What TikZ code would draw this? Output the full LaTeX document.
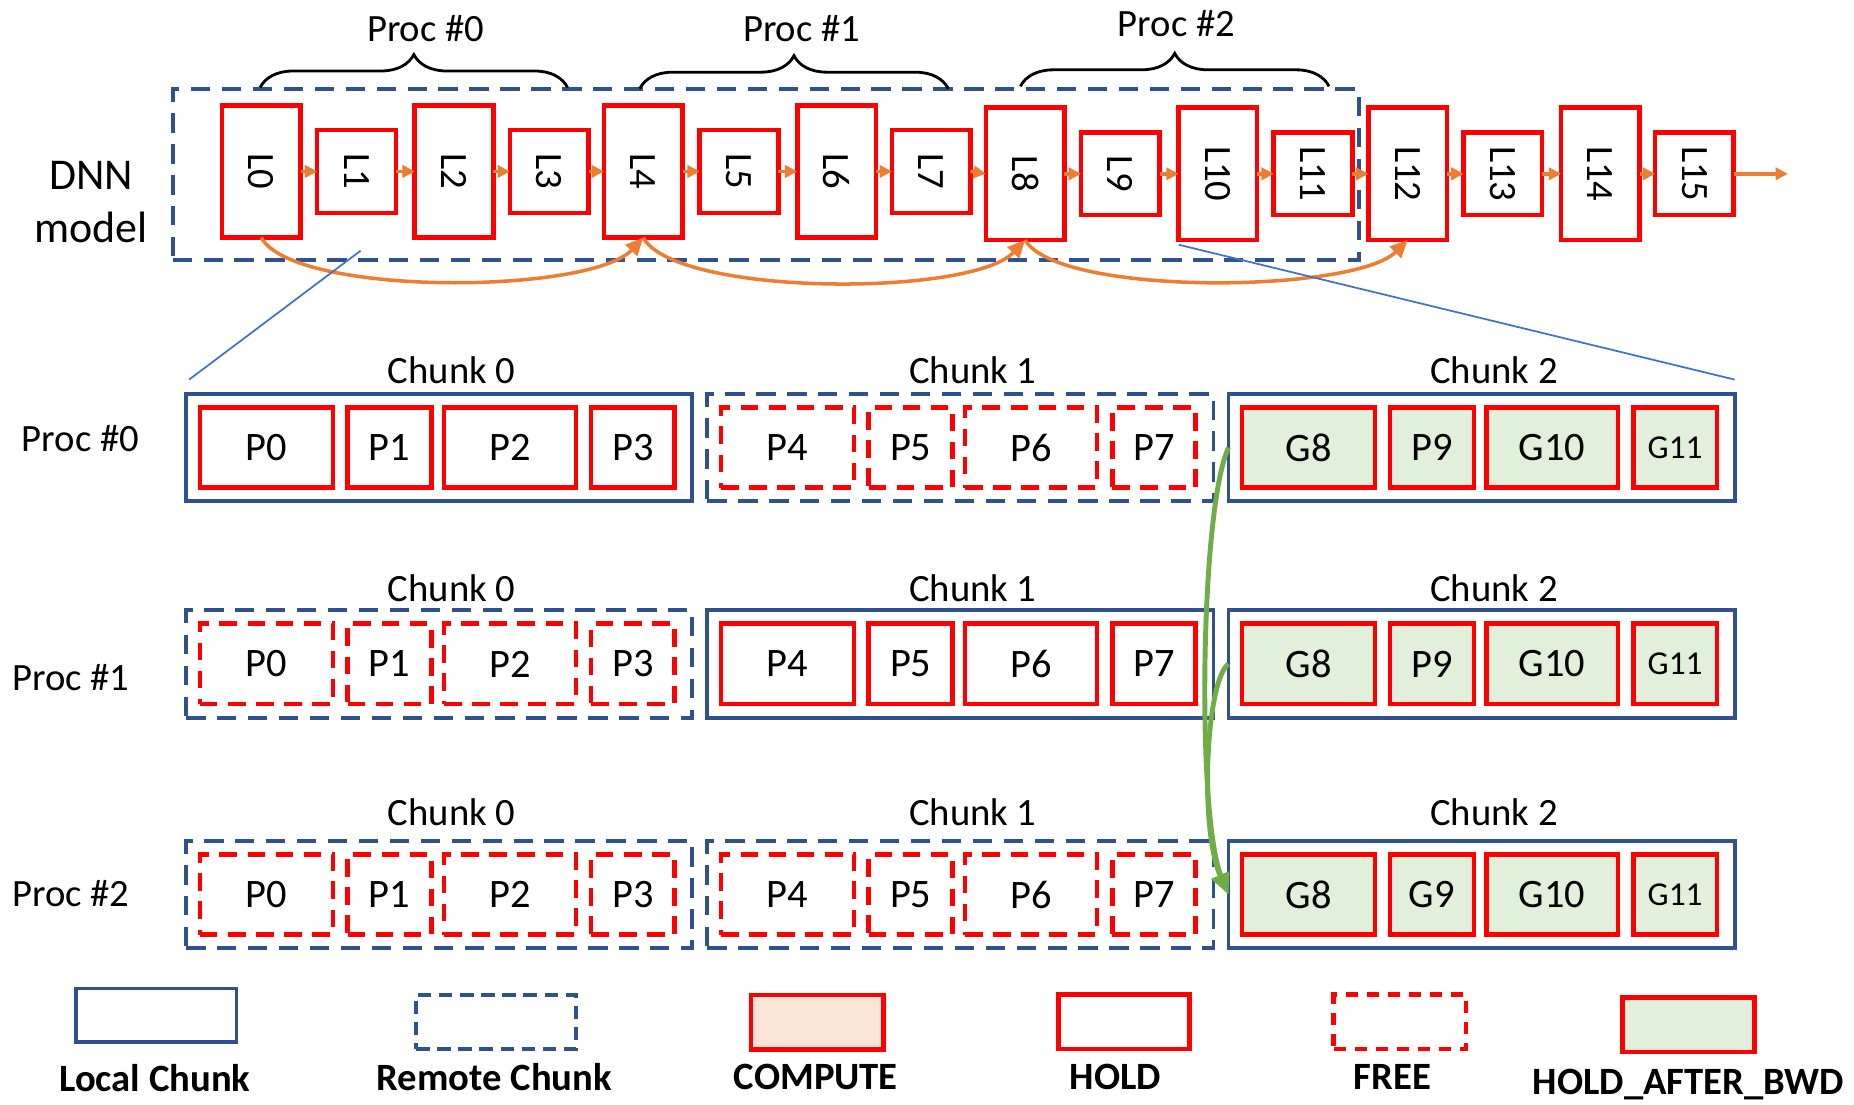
\documentclass[tikz,border=0pt]{standalone}
\usepackage{fontspec}
\setmainfont{Carlito}
\usetikzlibrary{arrows.meta,decorations.pathreplacing}
\newcommand\myu{0.011824cm}
\definecolor{cblue}{HTML}{2F528F}
\definecolor{oran}{HTML}{ED7D31}
\definecolor{gline}{HTML}{70AD47}
\definecolor{gfill}{HTML}{E2EFDA}
\definecolor{pfill}{HTML}{FBE5D6}
\definecolor{zblue}{HTML}{4472C4}
\definecolor{mred}{HTML}{FF0000}
\tikzset{
 sz/.style 2 args={minimum width=#1*\myu, minimum height=#2*\myu},
 base box/.style={rectangle, inner sep=0pt, outer sep=0pt},
 lay/.style={base box, draw=mred, line width=1.3pt},
 ltxt/.style={rotate=-90, font=\fontsize{11}{13}\selectfont, inner sep=0pt},
 Lchunk/.style={base box, draw=cblue, line width=1.1pt},
 Rchunk/.style={Lchunk, dash pattern=on 5.5pt off 3.3pt},
 holdbox/.style={base box, draw=mred, line width=1.3pt, font=\fontsize{11.5}{13}\selectfont},
 freebox/.style={holdbox, dash pattern=on 5pt off 3pt},
 habbox/.style={holdbox, fill=gfill},
 cmpbox/.style={holdbox, fill=pfill},
 clbl/.style={font=\fontsize{11}{13}\selectfont, anchor=base, inner sep=0pt},
 plbl/.style={font=\fontsize{11}{13}\selectfont, inner sep=0pt},
 leg/.style={font=\bfseries\fontsize{11}{13}\selectfont, inner sep=0pt},
 oarr/.style={draw=oran, line width=1pt, -{Triangle[length=3.5pt,width=3.5pt]}},
 oarc/.style={draw=oran, line width=1pt, -{Triangle[length=5pt,width=4.5pt]}},
 garr/.style={draw=gline, line width=1.4pt, -{Triangle[length=6pt,width=5pt]}},
 zline/.style={draw=zblue, line width=0.5pt},
 bracedeco/.style={draw=black, line width=0.8pt, decorate, decoration={brace, amplitude=9.4pt}},
}
\newcommand\mkchunk[6]{%
  \pgfmathsetmacro\cx{371.5+440.75*#4}
  \node[#5, sz={428}{91}] (c#1#4) at (\cx,#2) {};
  \node[clbl] (cl#1#4) at (\cx+10.5,#3) {Chunk #4};
  \foreach \i/\dx/\w in {0/-146.25/112.5,1/-42/71,2/59.75/111.5,3/163.75/70.5}{
    \pgfmathtruncatemacro\n{4*#4+\i}
    \node[#6, sz={\w}{68}] (p#1#4\i) at (\cx+\dx,#2) {P\n};
  }
}
\newcommand\mkgrad[4]{%
  \pgfmathsetmacro\cx{371.5+440.75*2}
  \node[Lchunk, sz={428}{91}] (c#12) at (\cx,#2) {};
  \node[clbl] (cl#12) at (\cx+10.5,#3) {Chunk 2};
  \node[habbox, sz={112.5}{68}] (p#120) at (\cx-146.25,#2) {G8};
  \node[habbox, sz={71}{68}] (p#121) at (\cx-42,#2) {#4};
  \node[habbox, sz={111.5}{68}] (p#122) at (\cx+59.75,#2) {G10};
  \node[habbox, sz={70.5}{68}, font=\fontsize{9.5}{11}\selectfont] (p#123) at (\cx+163.75,#2) {G11};
}
\begin{document}
\begin{tikzpicture}[x=\myu, y=-\myu]
\useasboundingbox (0,0) rectangle (1568,934);

% DNN model label
\node[font=\fontsize{12.5}{15}\selectfont, anchor=base, inner sep=0pt] (dnn1) at (77,160) {DNN};
\node[font=\fontsize{12.5}{15}\selectfont, anchor=base, inner sep=0pt] (dnn2) at (77,205) {model};

% model dashed box
\node[Rchunk, sz={1003}{144.5}] (model) at (647.5,147.75) {};

% layers
\foreach \i/\x in {0/221,1/301.5,2/384,3/464.5,4/544,5/625,6/707.5,7/787.5,8/867,9/947.5,10/1030,11/1110.5,12/1190.5,13/1271,14/1353.5,15/1433}{
  \pgfmathsetmacro\yy{\i<8 ? 145 : 147}
  \pgfmathsetmacro\hh{mod(\i,2)==0 ? 112 : 70}
  \node[lay, sz={66.5}{\hh}] (L\i) at (\x,\yy) {};
  \node[ltxt] (Lt\i) at (L\i) {L\i};
}
\foreach \a [evaluate=\a as \b using int(\a+1)] in {0,...,14}
  \draw[oarr] (L\a.east) -- (L\b.west);
\coordinate (out) at (1512,147);
\draw[oarr] (L15.east) -- (out);

% skip connections
\draw[oarc] (L0.south) .. controls +(28,50) and +(-45,48) .. (L4.south);
\draw[oarc] (L4.south) .. controls +(28,50) and +(-45,48) .. (L8.south);
\draw[oarc] (L8.south) .. controls +(28,48) and +(-45,45) .. (L12.south);

% braces
\coordinate (b0a) at (220,74); \coordinate (b0b) at (480,74);
\coordinate (b1a) at (541,75); \coordinate (b1b) at (802,75);
\coordinate (b2a) at (863,73); \coordinate (b2b) at (1124,73);
\draw[bracedeco] (b0a) -- (b0b);
\draw[bracedeco] (b1a) -- (b1b);
\draw[bracedeco] (b2a) -- (b2b);
\node[plbl] (pr0) at (360,24) {Proc \#0};
\node[plbl] (pr1) at (678,24) {Proc \#1};
\node[plbl] (pr2) at (995,20) {Proc \#2};

% zoom lines
\coordinate (za1) at (305,212); \coordinate (za2) at (160,321);
\coordinate (zb1) at (997,207); \coordinate (zb2) at (1467,321);
\draw[zline] (za1) -- (za2);
\draw[zline] (zb1) -- (zb2);

% rows
\node[plbl] (rp0) at (68,371) {Proc \#0};
\node[plbl] (rp1) at (60,573) {Proc \#1};
\node[plbl] (rp2) at (60,755.6) {Proc \#2};

\mkchunk{1}{378.5}{324}{0}{Lchunk}{holdbox}
\mkchunk{1}{378.5}{324}{1}{Rchunk}{freebox}
\mkgrad{1}{378.5}{324}{P9}
\mkchunk{2}{561.5}{508.8}{0}{Rchunk}{freebox}
\mkchunk{2}{561.5}{508.8}{1}{Lchunk}{holdbox}
\mkgrad{2}{561.5}{508.8}{P9}
\mkchunk{3}{756.5}{698}{0}{Rchunk}{freebox}
\mkchunk{3}{756.5}{698}{1}{Rchunk}{freebox}
\mkgrad{3}{756.5}{698}{G9}

% green transfers
\draw[garr] (c12.west) .. controls (1015,430) and (1012,690) .. (c32.west);
\draw[garr] (c22.west) .. controls (1020,575) and (1014,700) .. (c32.west);

% legend
\node[Lchunk, sz={136}{45}] (lg1) at (132,858.5) {};
\node[leg] (lt1) at (131,911.5) {Local Chunk};
\node[Lchunk, dash pattern=on 3.8pt off 2.2pt, sz={135}{46}] (lg2) at (419.5,864.5) {};
\node[leg] (lt2) at (418,911) {Remote Chunk};
\node[cmpbox, sz={112}{46}] (lg3) at (691,864.5) {};
\node[leg] (lt3) at (690,911) {COMPUTE};
\node[holdbox, sz={111}{46}] (lg4) at (950.5,864.3) {};
\node[leg] (lt4) at (943.5,911) {HOLD};
\node[holdbox, dash pattern=on 3.5pt off 2.5pt, sz={112}{46}] (lg5) at (1184,864.3) {};
\node[leg] (lt5) at (1177.5,910.7) {FREE};
\node[habbox, sz={112}{46}] (lg6) at (1428,866.6) {};
\node[leg] (lt6) at (1428,917) {HOLD\_AFTER\_BWD};
\end{tikzpicture}
\end{document}
